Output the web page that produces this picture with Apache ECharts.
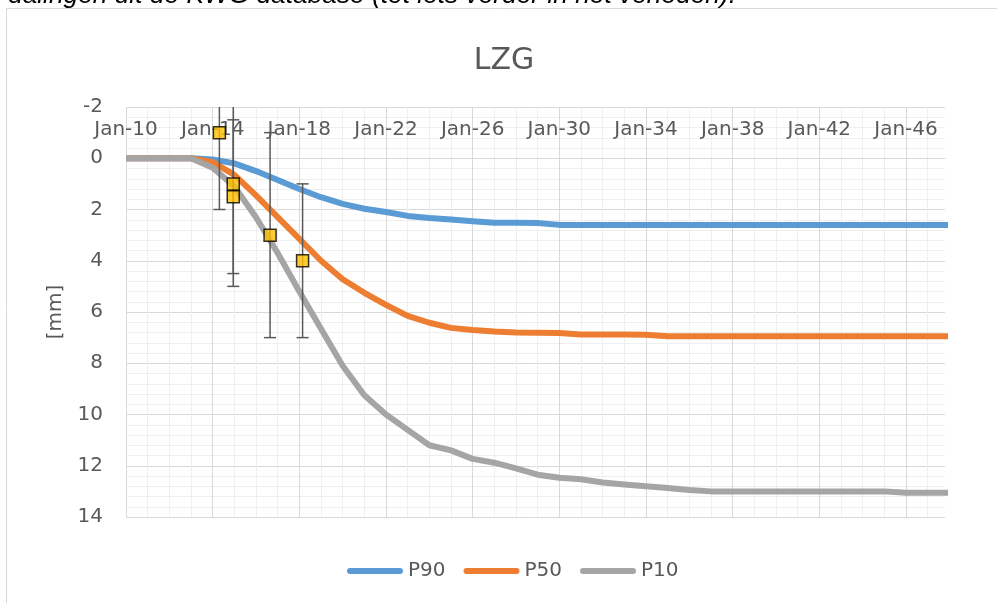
<!DOCTYPE html>
<html>
<head>
<meta charset="utf-8">
<script src="https://cdn.jsdelivr.net/npm/echarts@6/dist/echarts.min.js"></script>
<style>
  html, body { margin: 0; padding: 0; background: #ffffff; }
  #chart { width: 997px; height: 603px; }
</style>
</head>
<body>
<div id="chart"></div>
<script>
// Settlement forecast LZG: percentile curves (mm) per year, plus measured points with error bars.
const START_YEAR = 2010;

const years = [2010, 2011, 2012, 2013, 2014, 2015, 2016, 2017, 2018, 2019,
               2020, 2021, 2022, 2023, 2024, 2025, 2026, 2027, 2028, 2029,
               2030, 2031, 2032, 2033, 2034, 2035, 2036, 2037, 2038, 2039,
               2040, 2041, 2042, 2043, 2044, 2045, 2046, 2047, 2048];

const p90 = [0, 0, 0, 0, 0.05, 0.2, 0.5, 0.85, 1.2, 1.52,
             1.78, 1.97, 2.1, 2.25, 2.33, 2.39, 2.46, 2.52, 2.52, 2.53,
             2.6, 2.6, 2.6, 2.6, 2.6, 2.6, 2.6, 2.6, 2.6, 2.6,
             2.6, 2.6, 2.6, 2.6, 2.6, 2.6, 2.6, 2.6, 2.6];

const p50 = [0, 0, 0, 0, 0.15, 0.65, 1.45, 2.3, 3.15, 4.0,
             4.72, 5.25, 5.72, 6.15, 6.42, 6.62, 6.7, 6.76, 6.8, 6.81,
             6.82, 6.88, 6.88, 6.88, 6.89, 6.95, 6.95, 6.95, 6.95, 6.95,
             6.95, 6.95, 6.95, 6.95, 6.95, 6.95, 6.95, 6.95, 6.95];

const p10 = [0, 0, 0, 0, 0.37, 1.1, 2.3, 3.7, 5.2, 6.65,
             8.1, 9.25, 10.0, 10.6, 11.2, 11.4, 11.73, 11.88, 12.1, 12.35,
             12.47, 12.53, 12.65, 12.73, 12.8, 12.87, 12.95, 13.0, 13.0, 13.0,
             13.0, 13.0, 13.0, 13.0, 13.0, 13.0, 13.05, 13.05, 13.05];

// Measurements (decimal year), with lower / upper error bounds
const obsYear  = [2014.31, 2014.95, 2014.95, 2016.65, 2018.15];
const obsValue = [-1, 1, 1.5, 3, 4];
const obsLow   = [-4, -3, -1.5, -1, 1];
const obsHigh  = [2, 5, 4.5, 7, 7];

const AXIS_END = 37.8; // years after START_YEAR shown on the time axis

const seriesNames = ['P90', 'P50', 'P10'];
const seriesValues = [p90, p50, p10];
const seriesColors = ['#5B9BD5', '#ED7D31', '#A5A5A5'];

const textColor = '#595959';
const uiFont = 'DejaVu Sans';

const toPairs = arr => years.map((y, i) => [y - START_YEAR, arr[i]]);

const chart = echarts.init(document.getElementById('chart'), null, { renderer: 'canvas' });

const lineSeries = seriesNames.map((name, k) => ({
  name: name,
  type: 'line',
  data: toPairs(seriesValues[k]),
  symbol: 'none',
  showSymbol: false,
  smooth: false,
  z: 2,
  color: seriesColors[k],
  lineStyle: { width: 6, color: seriesColors[k], join: 'round', cap: 'butt' }
}));

const errorSeries = {
  type: 'custom',
  name: 'error',
  silent: true,
  z: 3,
  data: obsYear.map((y, i) => [y - START_YEAR, obsLow[i], obsHigh[i]]),
  encode: { x: 0, y: [1, 2] },
  renderItem: function (params, api) {
    const cs = params.coordSys;
    const top = cs.y, bottom = cs.y + cs.height;
    const x = api.value(0);
    const a = api.coord([x, api.value(1)]);
    const b = api.coord([x, api.value(2)]);
    const style = { stroke: '#595959', lineWidth: 1.5 };
    const half = 6;
    const children = [];
    const y1 = Math.max(top, Math.min(bottom, a[1]));
    const y2 = Math.max(top, Math.min(bottom, b[1]));
    children.push({ type: 'line', shape: { x1: a[0], y1: y1, x2: b[0], y2: y2 }, style: style });
    [a, b].forEach(p => {
      if (p[1] >= top && p[1] <= bottom) {
        children.push({ type: 'line', shape: { x1: p[0] - half, y1: p[1], x2: p[0] + half, y2: p[1] }, style: style });
      }
    });
    return { type: 'group', children: children };
  }
};

const pointSeries = {
  type: 'scatter',
  name: 'meting',
  z: 4,
  symbol: 'rect',
  symbolSize: 12,
  data: obsYear.map((y, i) => [y - START_YEAR, obsValue[i]]),
  itemStyle: { color: '#FFC000', borderColor: '#000000', borderWidth: 1.5 }
};

const option = {
  animation: false,
  backgroundColor: '#ffffff',
  title: {
    text: 'LZG',
    left: 499,
    top: 41,
    textAlign: 'center',
    textStyle: { fontFamily: uiFont, fontSize: 30, fontWeight: 'normal', color: textColor }
  },
  legend: {
    data: seriesNames,
    left: 347,
    top: 561,
    padding: 0,
    itemWidth: 56,
    itemHeight: 6,
    itemGap: 18,
    icon: 'path://M3,0L53,0A3,3,0,0,1,53,6L3,6A3,3,0,0,1,3,0Z',
    textStyle: { fontFamily: uiFont, fontSize: 20, color: textColor }
  },
  grid: { left: 126, right: 52, top: 107, bottom: 86 },
  xAxis: [
    {
      type: 'value',
      position: 'top',
      min: 0,
      max: AXIS_END,
      interval: 4,
      z: 1,
      axisLine: { show: true, lineStyle: { color: '#D9D9D9', width: 1 } },
      axisTick: { show: false },
      axisLabel: {
        inside: true,
        margin: 13,
        showMaxLabel: false,
        fontFamily: uiFont,
        fontSize: 20,
        color: textColor,
        formatter: v => 'Jan-' + String((START_YEAR + v) % 100).padStart(2, '0')
      },
      splitLine: { show: true, showMaxLine: false, lineStyle: { color: '#D9D9D9', width: 1 } }
    },
    {
      type: 'value',
      position: 'bottom',
      min: 0,
      max: AXIS_END,
      interval: 1,
      z: 0,
      axisLine: { show: false },
      axisTick: { show: false },
      axisLabel: { show: false },
      splitLine: { show: true, showMaxLine: false, lineStyle: { color: '#EFEFEF', width: 1 } }
    }
  ],
  yAxis: {
    type: 'value',
    inverse: true,
    min: -2,
    max: 14,
    interval: 2,
    name: '[mm]',
    nameLocation: 'middle',
    nameRotate: 90,
    nameGap: 60,
    nameTextStyle: { fontFamily: uiFont, fontSize: 20, color: textColor },
    axisLine: { show: false },
    axisTick: { show: false },
    axisLabel: { margin: 23, padding: [4, 0, 0, 0], fontFamily: uiFont, fontSize: 20, color: textColor },
    splitLine: { show: true, lineStyle: { color: '#D9D9D9', width: 1 } },
    minorTick: { show: false, splitNumber: 5 },
    minorSplitLine: { show: true, lineStyle: { color: '#EFEFEF', width: 1 } }
  },
  graphic: [
    {
      type: 'rect',
      silent: true,
      shape: { x: 6.5, y: 8.5, width: 1000, height: 600 },
      style: { fill: 'none', stroke: '#D9D9D9', lineWidth: 1 }
    },
    {
      type: 'text',
      silent: true,
      x: 8,
      y: -4,
      style: {
        text: 'dalingen uit de KWG database (tot iets verder in het verleden).',
        font: 'italic 26.3px "Liberation Sans"',
        fill: '#000000',
        align: 'left',
        verticalAlign: 'middle'
      }
    }
  ],
  series: lineSeries.concat([errorSeries, pointSeries])
};

chart.setOption(option);
</script>
</body>
</html>
